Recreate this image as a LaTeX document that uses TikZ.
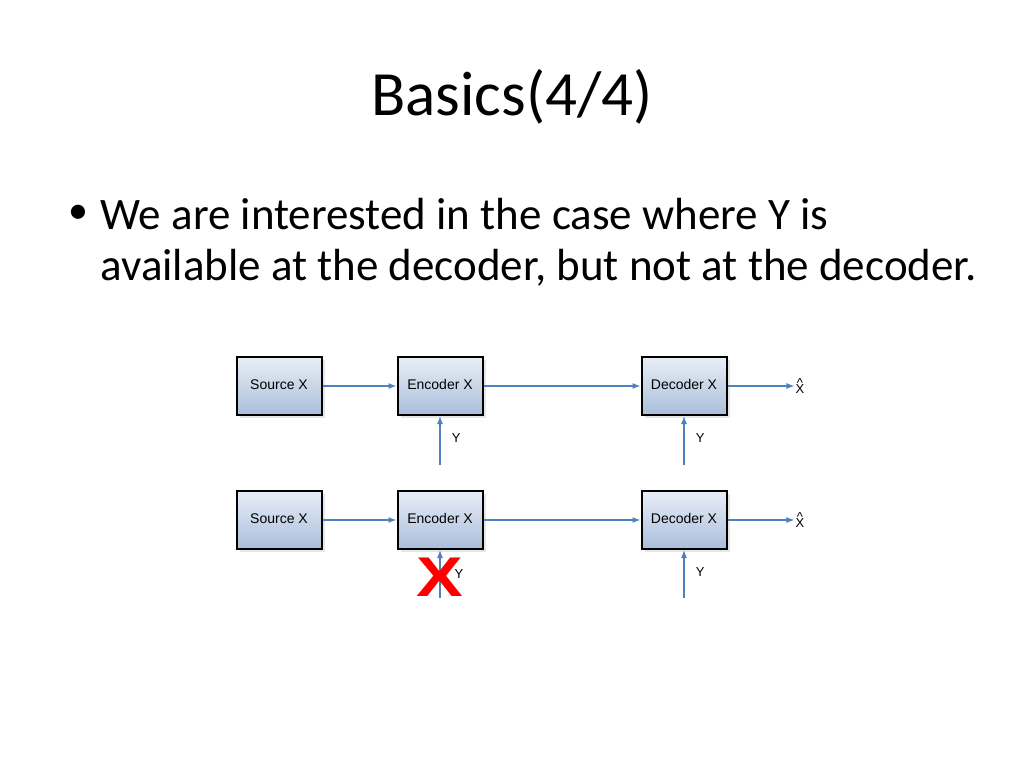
\documentclass[tikz,border=0pt]{standalone}
\usepackage{fontspec}
\setmainfont{Carlito}
\newfontfamily\boxfont{Liberation Sans}
\usetikzlibrary{arrows.meta,positioning,shadows}
\definecolor{arrowblue}{RGB}{79,129,189}
\definecolor{boxtop}{RGB}{232,238,247}
\definecolor{boxbot}{RGB}{170,190,218}
\tikzset{
  block/.style={draw=black, line width=2pt, minimum width=85pt, minimum height=58pt,
    top color=boxtop, bottom color=boxbot, font=\boxfont\fontsize{14}{16}\selectfont,
    text height=10pt, text depth=3pt,
    drop shadow={shadow xshift=3pt, shadow yshift=-3pt, opacity=0.2}},
  link/.style={draw=arrowblue, line width=1.2pt, -{Latex[length=8pt,width=6pt]}},
  lbl/.style={font=\boxfont\fontsize{13}{15}\selectfont}
}
\begin{document}
\begin{tikzpicture}[x=1pt,y=-1pt]
\useasboundingbox (0,0) rectangle (1024,768);
\node[font=\fontsize{63}{66}\selectfont] (title) at (512,97) {Basics(4/4)};
\node[font=\fontsize{40}{44}\selectfont] at (78,214) {\textbullet};
\node[anchor=west, font=\fontsize{45}{50}\selectfont] (l1) at (97,214) {We are interested in the case where Y is};
\node[anchor=west, font=\fontsize{45}{50}\selectfont] (l2) at (97,268) {available at the decoder, but not at the decoder.};
% first row
\node[block] (src1) at (279,386) {Source X};
\node[block] (enc1) at (440,386) {Encoder X};
\node[block] (dec1) at (684,386) {Decoder X};
\node[lbl, inner sep=1pt] (out1) at (800,386) {\boxfont\shortstack{\^{}\\[-6pt]X}};
\coordinate (y1) at (440,465);
\coordinate (y2) at (684,465);
\draw[link] (src1) -- (enc1);
\draw[link] (enc1) -- (dec1);
\draw[link] (dec1) -- (out1);
\draw[link] (y1) -- node[lbl, right=8pt, pos=0.55] {Y} (enc1);
\draw[link] (y2) -- node[lbl, right=8pt, pos=0.55] {Y} (dec1);
% second row
\node[block] (src2) at (279,520) {Source X};
\node[block] (enc2) at (440,520) {Encoder X};
\node[block] (dec2) at (684,520) {Decoder X};
\node[lbl, inner sep=1pt] (out2) at (800,520) {\boxfont\shortstack{\^{}\\[-6pt]X}};
\coordinate (y3) at (440,598);
\coordinate (y4) at (684,598);
\draw[link] (src2) -- (enc2);
\draw[link] (enc2) -- (dec2);
\draw[link] (dec2) -- (out2);
\draw[link] (y3) -- (enc2);
\draw[link] (y4) -- node[lbl, right=8pt, pos=0.55] {Y} (dec2);
\node[text=red, xscale=1.25, font=\boxfont\bfseries\fontsize{56}{56}\selectfont] (cross) at (440,577) {X};
\node[lbl] (ylbl) at (459,574) {Y};
\end{tikzpicture}
\end{document}
